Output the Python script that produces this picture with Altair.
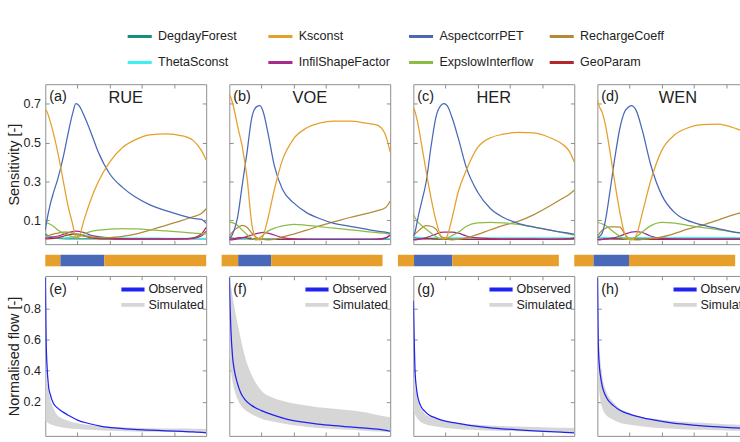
import altair as alt
import pandas as pd

CATCHMENTS = ["RUE", "VOE", "HER", "WEN"]
TOP_TAGS = ["(a)", "(b)", "(c)", "(d)"]
BOTTOM_TAGS = ["(e)", "(f)", "(g)", "(h)"]
# legend fills column by column: pairs are (row 1, row 2) of each column
PARAMS = ["DegdayForest", "ThetaSconst", "Ksconst", "InfilShapeFactor",
          "AspectcorrPET", "ExpslowInterflow", "RechargeCoeff", "GeoParam"]
PARAM_COLORS = ["#168f7b", "#3ef0f0", "#e59f2a", "#a82a8e",
                "#4a68b8", "#8cbc45", "#b38a38", "#b0282c"]
SERIES = ["Observed", "Simulated"]
SERIES_COLORS = ["#1f22f0", "#d6d6d6"]

X_SENS = [0, 1, 3, 5, 8, 11, 14, 17, 19, 21, 24, 28, 33, 40, 48, 56, 65, 75, 85, 92, 97, 100]

RUE_DEGDAY = [0.03, 0.025, 0.018, 0.012, 0.008, 0.006, 0.005, 0.005, 0.005, 0.005, 0.005, 0.005, 0.005, 0.005, 0.005, 0.005, 0.005, 0.005, 0.005, 0.005, 0.005, 0.005]
RUE_KS = [0.67, 0.66, 0.61, 0.55, 0.44, 0.31, 0.18, 0.08, 0.015, 0.02, 0.10, 0.20, 0.30, 0.40, 0.475, 0.515, 0.54, 0.545, 0.535, 0.51, 0.46, 0.41]
RUE_ASP = [0.05, 0.10, 0.18, 0.24, 0.32, 0.42, 0.54, 0.65, 0.70, 0.69, 0.64, 0.56, 0.45, 0.34, 0.27, 0.22, 0.18, 0.15, 0.125, 0.11, 0.105, 0.085]
RUE_RECH = [0.02, 0.02, 0.025, 0.03, 0.035, 0.04, 0.04, 0.035, 0.03, 0.025, 0.02, 0.015, 0.012, 0.012, 0.018, 0.03, 0.05, 0.075, 0.10, 0.12, 0.135, 0.16]
RUE_THETA = [0.02, 0.018, 0.015, 0.012, 0.01, 0.01, 0.012, 0.016, 0.02, 0.022, 0.024, 0.022, 0.018, 0.012, 0.01, 0.009, 0.009, 0.008, 0.008, 0.008, 0.008, 0.008]
RUE_INFIL = [0.01, 0.01, 0.012, 0.015, 0.02, 0.028, 0.036, 0.043, 0.045, 0.044, 0.038, 0.025, 0.015, 0.008, 0.006, 0.005, 0.005, 0.005, 0.005, 0.008, 0.02, 0.045]
RUE_EXPS = [0.09, 0.088, 0.08, 0.07, 0.05, 0.035, 0.025, 0.015, 0.01, 0.015, 0.03, 0.042, 0.05, 0.055, 0.058, 0.056, 0.052, 0.046, 0.04, 0.035, 0.032, 0.03]
RUE_GEO = [0.005, 0.005, 0.006, 0.008, 0.012, 0.018, 0.025, 0.03, 0.03, 0.028, 0.02, 0.012, 0.007, 0.005, 0.004, 0.004, 0.004, 0.004, 0.005, 0.01, 0.03, 0.065]

VOE_DEGDAY = [0.012, 0.01, 0.008, 0.006, 0.005, 0.005, 0.004, 0.004, 0.004, 0.004, 0.004, 0.004, 0.004, 0.004, 0.004, 0.004, 0.004, 0.004, 0.004, 0.004, 0.004, 0.004]
VOE_KS = [0.75, 0.73, 0.67, 0.59, 0.48, 0.32, 0.08, 0.005, 0.0, 0.02, 0.11, 0.26, 0.41, 0.52, 0.575, 0.60, 0.61, 0.61, 0.60, 0.59, 0.54, 0.45]
VOE_ASP = [0.01, 0.015, 0.05, 0.11, 0.28, 0.45, 0.63, 0.685, 0.69, 0.66, 0.55, 0.38, 0.26, 0.19, 0.14, 0.11, 0.085, 0.07, 0.055, 0.045, 0.04, 0.035]
VOE_RECH = [0.02, 0.03, 0.05, 0.062, 0.075, 0.065, 0.035, 0.012, 0.005, 0.002, 0.0, 0.002, 0.015, 0.03, 0.05, 0.072, 0.092, 0.115, 0.135, 0.15, 0.165, 0.2]
VOE_THETA = [0.006, 0.006, 0.006, 0.006, 0.006, 0.006, 0.006, 0.006, 0.006, 0.006, 0.006, 0.006, 0.006, 0.006, 0.006, 0.006, 0.006, 0.006, 0.006, 0.006, 0.006, 0.006]
VOE_INFIL = [0.0, 0.0, 0.002, 0.005, 0.01, 0.018, 0.025, 0.032, 0.036, 0.038, 0.035, 0.025, 0.012, 0.005, 0.003, 0.002, 0.002, 0.002, 0.002, 0.003, 0.008, 0.025]
VOE_EXPS = [0.09, 0.09, 0.085, 0.075, 0.05, 0.028, 0.008, 0.0, 0.012, 0.025, 0.045, 0.06, 0.072, 0.08, 0.075, 0.068, 0.06, 0.052, 0.043, 0.037, 0.033, 0.03]
VOE_GEO = [0.003, 0.004, 0.006, 0.01, 0.012, 0.01, 0.006, 0.004, 0.003, 0.003, 0.003, 0.003, 0.003, 0.003, 0.003, 0.003, 0.003, 0.003, 0.003, 0.004, 0.01, 0.025]

HER_DEGDAY = [0.015, 0.012, 0.009, 0.007, 0.005, 0.005, 0.004, 0.004, 0.004, 0.004, 0.004, 0.004, 0.004, 0.004, 0.004, 0.004, 0.004, 0.004, 0.004, 0.004, 0.004, 0.004]
HER_KS = [0.68, 0.66, 0.59, 0.495, 0.35, 0.215, 0.10, 0.02, 0.004, 0.02, 0.11, 0.25, 0.36, 0.475, 0.525, 0.543, 0.553, 0.55, 0.525, 0.495, 0.455, 0.40]
HER_ASP = [0.02, 0.04, 0.12, 0.19, 0.30, 0.48, 0.63, 0.69, 0.70, 0.69, 0.63, 0.52, 0.37, 0.245, 0.16, 0.115, 0.085, 0.065, 0.05, 0.04, 0.034, 0.03]
HER_RECH = [0.02, 0.03, 0.045, 0.06, 0.073, 0.07, 0.055, 0.02, 0.01, 0.004, 0.0, 0.003, 0.01, 0.028, 0.052, 0.075, 0.095, 0.13, 0.175, 0.21, 0.235, 0.255]
HER_THETA = [0.02, 0.016, 0.012, 0.01, 0.01, 0.01, 0.01, 0.01, 0.01, 0.01, 0.01, 0.01, 0.01, 0.01, 0.01, 0.01, 0.01, 0.01, 0.01, 0.01, 0.01, 0.01]
HER_INFIL = [0.0, 0.0, 0.003, 0.006, 0.012, 0.02, 0.03, 0.038, 0.04, 0.04, 0.04, 0.035, 0.02, 0.01, 0.007, 0.005, 0.005, 0.005, 0.004, 0.004, 0.006, 0.01]
HER_EXPS = [0.13, 0.115, 0.09, 0.075, 0.055, 0.035, 0.017, 0.005, 0.006, 0.01, 0.022, 0.04, 0.07, 0.088, 0.09, 0.087, 0.08, 0.066, 0.05, 0.038, 0.03, 0.025]
HER_GEO = [0.003, 0.003, 0.004, 0.005, 0.006, 0.006, 0.005, 0.004, 0.004, 0.004, 0.003, 0.003, 0.003, 0.003, 0.003, 0.003, 0.003, 0.003, 0.003, 0.004, 0.005, 0.008]

WEN_DEGDAY = [0.015, 0.012, 0.01, 0.008, 0.006, 0.005, 0.005, 0.005, 0.005, 0.005, 0.005, 0.005, 0.005, 0.005, 0.005, 0.005, 0.005, 0.005, 0.005, 0.005, 0.005, 0.005]
WEN_KS = [0.72, 0.69, 0.655, 0.59, 0.445, 0.285, 0.14, 0.03, 0.005, 0.0, 0.02, 0.14, 0.30, 0.46, 0.54, 0.575, 0.592, 0.595, 0.575, 0.55, 0.51, 0.46]
WEN_ASP = [0.01, 0.015, 0.035, 0.10, 0.26, 0.43, 0.575, 0.66, 0.68, 0.69, 0.667, 0.56, 0.39, 0.23, 0.14, 0.10, 0.077, 0.058, 0.04, 0.032, 0.028, 0.025]
WEN_RECH = [0.02, 0.03, 0.05, 0.06, 0.067, 0.067, 0.066, 0.03, 0.01, 0.002, 0.0, 0.002, 0.006, 0.015, 0.033, 0.055, 0.075, 0.102, 0.13, 0.145, 0.155, 0.16]
WEN_THETA = [0.012, 0.012, 0.012, 0.012, 0.012, 0.012, 0.012, 0.012, 0.012, 0.012, 0.012, 0.012, 0.012, 0.012, 0.012, 0.012, 0.012, 0.012, 0.012, 0.012, 0.012, 0.012]
WEN_INFIL = [0.0, 0.0, 0.002, 0.005, 0.008, 0.012, 0.02, 0.03, 0.035, 0.04, 0.043, 0.038, 0.02, 0.008, 0.005, 0.004, 0.004, 0.004, 0.004, 0.004, 0.004, 0.004]
WEN_EXPS = [0.09, 0.088, 0.082, 0.075, 0.055, 0.035, 0.018, 0.005, 0.004, 0.006, 0.015, 0.042, 0.072, 0.09, 0.086, 0.075, 0.064, 0.053, 0.04, 0.034, 0.03, 0.028]
WEN_GEO = [0.003, 0.003, 0.003, 0.004, 0.005, 0.005, 0.005, 0.004, 0.004, 0.004, 0.003, 0.003, 0.003, 0.003, 0.003, 0.003, 0.003, 0.003, 0.003, 0.003, 0.003, 0.003]

# dominant-parameter strips: segment edges and parameter of each segment
RUE_SEG_EDGES = [0, 9.4, 36.7, 100]
VOE_SEG_EDGES = [0, 10.3, 30.8, 100]
HER_SEG_EDGES = [0, 10.0, 33.8, 100]
WEN_SEG_EDGES = [0, 12.0, 34.0, 100]
SEG_PARAMS = ["Ksconst", "AspectcorrPET", "Ksconst"]

X_FLOW = [0, 0.5, 1, 2, 3, 5, 7, 10, 14, 20, 27, 35, 45, 55, 65, 75, 85, 92, 100]
RUE_OBS = [1.0, 0.6, 0.45, 0.30, 0.25, 0.19, 0.165, 0.14, 0.115, 0.082, 0.06, 0.042, 0.03, 0.022, 0.018, 0.013, 0.009, 0.006, 0.0]
RUE_SIM_HI = [0.48, 0.38, 0.33, 0.27, 0.22, 0.16, 0.12, 0.095, 0.078, 0.062, 0.05, 0.042, 0.035, 0.032, 0.03, 0.028, 0.027, 0.026, 0.025]
RUE_SIM_LO = [0.08, 0.075, 0.07, 0.062, 0.056, 0.048, 0.042, 0.035, 0.03, 0.024, 0.019, 0.015, 0.012, 0.009, 0.007, 0.005, 0.004, 0.003, 0.002]
VOE_OBS = [1.0, 0.8, 0.66, 0.49, 0.41, 0.32, 0.26, 0.21, 0.175, 0.143, 0.115, 0.09, 0.07, 0.056, 0.046, 0.038, 0.03, 0.023, 0.01]
VOE_SIM_HI = [1.0, 0.98, 0.95, 0.88, 0.82, 0.71, 0.61, 0.48, 0.37, 0.27, 0.225, 0.2, 0.18, 0.165, 0.155, 0.145, 0.13, 0.115, 0.10]
VOE_SIM_LO = [0.5, 0.44, 0.4, 0.33, 0.28, 0.22, 0.18, 0.145, 0.12, 0.09, 0.072, 0.056, 0.042, 0.031, 0.024, 0.019, 0.012, 0.008, 0.004]
HER_OBS = [0.85, 0.6, 0.41, 0.28, 0.22, 0.165, 0.14, 0.113, 0.095, 0.075, 0.062, 0.048, 0.035, 0.026, 0.019, 0.013, 0.008, 0.005, 0.0]
HER_SIM_HI = [0.38, 0.34, 0.31, 0.25, 0.2, 0.155, 0.125, 0.105, 0.09, 0.075, 0.063, 0.055, 0.048, 0.043, 0.04, 0.037, 0.034, 0.032, 0.031]
HER_SIM_LO = [0.15, 0.13, 0.12, 0.1, 0.085, 0.066, 0.057, 0.047, 0.04, 0.031, 0.024, 0.019, 0.015, 0.012, 0.01, 0.008, 0.006, 0.005, 0.004]
WEN_OBS = [1.0, 0.6, 0.46, 0.36, 0.30, 0.24, 0.205, 0.175, 0.145, 0.12, 0.1, 0.083, 0.066, 0.054, 0.045, 0.038, 0.032, 0.027, 0.02]
WEN_SIM_HI = [0.8, 0.7, 0.6, 0.45, 0.37, 0.28, 0.235, 0.195, 0.155, 0.128, 0.1, 0.09, 0.078, 0.07, 0.064, 0.058, 0.053, 0.05, 0.047]
WEN_SIM_LO = [0.4, 0.33, 0.28, 0.2, 0.16, 0.12, 0.1, 0.083, 0.065, 0.052, 0.042, 0.033, 0.027, 0.022, 0.019, 0.016, 0.014, 0.013, 0.012]

X_TICKS = [20, 40, 60, 80]
SENS_TICKS = [0.1, 0.3, 0.5, 0.7]
FLOW_TICKS = [0.2, 0.4, 0.6, 0.8]

SENS = {
    "RUE": {"DegdayForest": RUE_DEGDAY, "Ksconst": RUE_KS, "AspectcorrPET": RUE_ASP, "RechargeCoeff": RUE_RECH,
            "ThetaSconst": RUE_THETA, "InfilShapeFactor": RUE_INFIL, "ExpslowInterflow": RUE_EXPS, "GeoParam": RUE_GEO},
    "VOE": {"DegdayForest": VOE_DEGDAY, "Ksconst": VOE_KS, "AspectcorrPET": VOE_ASP, "RechargeCoeff": VOE_RECH,
            "ThetaSconst": VOE_THETA, "InfilShapeFactor": VOE_INFIL, "ExpslowInterflow": VOE_EXPS, "GeoParam": VOE_GEO},
    "HER": {"DegdayForest": HER_DEGDAY, "Ksconst": HER_KS, "AspectcorrPET": HER_ASP, "RechargeCoeff": HER_RECH,
            "ThetaSconst": HER_THETA, "InfilShapeFactor": HER_INFIL, "ExpslowInterflow": HER_EXPS, "GeoParam": HER_GEO},
    "WEN": {"DegdayForest": WEN_DEGDAY, "Ksconst": WEN_KS, "AspectcorrPET": WEN_ASP, "RechargeCoeff": WEN_RECH,
            "ThetaSconst": WEN_THETA, "InfilShapeFactor": WEN_INFIL, "ExpslowInterflow": WEN_EXPS, "GeoParam": WEN_GEO},
}
DRAW_ORDER = ["DegdayForest", "ThetaSconst", "GeoParam", "InfilShapeFactor",
              "RechargeCoeff", "ExpslowInterflow", "AspectcorrPET", "Ksconst"]
SEGS = {"RUE": RUE_SEG_EDGES, "VOE": VOE_SEG_EDGES, "HER": HER_SEG_EDGES, "WEN": WEN_SEG_EDGES}
FLOWS = {
    "RUE": (RUE_OBS, RUE_SIM_LO, RUE_SIM_HI),
    "VOE": (VOE_OBS, VOE_SIM_LO, VOE_SIM_HI),
    "HER": (HER_OBS, HER_SIM_LO, HER_SIM_HI),
    "WEN": (WEN_OBS, WEN_SIM_LO, WEN_SIM_HI),
}

W = 167
H_TOP = 166
H_BOT = 166
FRAME = "#8a8a8a"
TXT = "#222222"
FONT = "Liberation Sans"

xscale = alt.Scale(domain=[0, 100], nice=False, zero=False)
sens_scale = alt.Scale(domain=[-0.022, 0.8], nice=False, zero=False)
flow_scale = alt.Scale(domain=[-0.02, 1.01], nice=False, zero=False)
color_scale = alt.Scale(domain=PARAMS, range=PARAM_COLORS)

TOP_LEGEND = alt.Legend(
    orient="none", legendX=84, legendY=-57, columns=4, title=None,
    symbolType="stroke", symbolSize=625, symbolStrokeWidth=3,
    labelFontSize=13, labelFont=FONT, labelColor=TXT, labelOffset=5,
    gridAlign="all", columnPadding=15, rowPadding=12, clipHeight=15,
)


def inner_axis(orient, values, show_labels=False, title=None, fmt=None):
    kw = dict(orient=orient, values=values, labels=show_labels, domain=False,
              grid=False, ticks=True, tickSize=4, offset=-4, tickColor=FRAME,
              tickWidth=1, labelPadding=5, labelFontSize=13, labelColor=TXT,
              labelFont=FONT, titleFontSize=15, titleFont=FONT,
              titleFontWeight="normal", titleColor=TXT, titlePadding=2)
    if fmt:
        kw["format"] = fmt
    kw["title"] = title if title else None
    return alt.Axis(**kw)


def sens_panel(i, name):
    rows = []
    for k, p in enumerate(DRAW_ORDER):
        for x, v in zip(X_SENS, SENS[name][p]):
            rows.append({"x": x, "value": v, "param": p, "k": k})
    df = pd.DataFrame(rows)
    lines = alt.Chart(df).mark_line(strokeWidth=1.3, interpolate="monotone", clip=True).encode(
        x=alt.X("x:Q", scale=xscale, axis=inner_axis("bottom", X_TICKS)),
        y=alt.Y("value:Q", scale=sens_scale,
                axis=inner_axis("left", SENS_TICKS, show_labels=(i == 0),
                                title="Sensitivity [-]" if i == 0 else None, fmt=".1f")),
        color=alt.Color("param:N", scale=color_scale, legend=TOP_LEGEND),
    )
    frame_axes = alt.Chart(df).mark_point(opacity=0).encode(
        x=alt.X("x:Q", scale=xscale, axis=inner_axis("top", X_TICKS)),
        y=alt.Y("value:Q", scale=sens_scale, axis=inner_axis("right", SENS_TICKS)),
    )
    tag = alt.Chart(pd.DataFrame({"t": [TOP_TAGS[i]]})).mark_text(
        align="left", baseline="middle", fontSize=15, font=FONT, color=TXT
    ).encode(text="t:N", x=alt.value(4), y=alt.value(12))
    title = alt.Chart(pd.DataFrame({"t": [name]})).mark_text(
        align="center", baseline="middle", fontSize=17, font=FONT, color=TXT
    ).encode(text="t:N", x=alt.value(W / 2), y=alt.value(14))
    return alt.layer(lines, frame_axes, tag, title).resolve_axis(
        x="independent", y="independent").properties(width=W, height=H_TOP)


def strip_panel(name):
    e = SEGS[name]
    df = pd.DataFrame({"x0": e[:-1], "x1": e[1:], "param": SEG_PARAMS})
    return alt.Chart(df).mark_bar(height=12).encode(
        x=alt.X("x0:Q", scale=xscale, axis=None),
        x2="x1:Q",
        color=alt.Color("param:N", scale=color_scale, legend=TOP_LEGEND),
    ).properties(width=W, height=12, view=alt.ViewBackground(strokeOpacity=0))


def flow_panel(i, name):
    obs, lo, hi = FLOWS[name]
    sim = pd.DataFrame({"x": X_FLOW, "lo": lo, "hi": hi})
    odf = pd.DataFrame({"x": X_FLOW, "y": obs, "series": ["Observed"] * len(X_FLOW)})
    band = alt.Chart(sim).mark_area(color=SERIES_COLORS[1], opacity=1, interpolate="monotone", clip=True).encode(
        x=alt.X("x:Q", scale=xscale, axis=inner_axis("bottom", X_TICKS)),
        y=alt.Y("lo:Q", scale=flow_scale,
                axis=inner_axis("left", FLOW_TICKS, show_labels=(i == 0),
                                title="Normalised flow [-]" if i == 0 else None, fmt=".1f")),
        y2="hi:Q",
    )
    line = alt.Chart(odf).mark_line(strokeWidth=1.3, interpolate="monotone", clip=True).encode(
        x=alt.X("x:Q", scale=xscale, axis=None),
        y=alt.Y("y:Q", scale=flow_scale, axis=None),
        stroke=alt.Stroke("series:N", scale=alt.Scale(domain=SERIES, range=SERIES_COLORS),
                          legend=alt.Legend(orient="none", legendX=77, legendY=6, title=None,
                                            symbolType="stroke", symbolSize=576,
                                            symbolStrokeWidth=4, labelFontSize=13,
                                            labelFont=FONT, labelColor=TXT, labelOffset=2,
                                            rowPadding=0, clipHeight=16, padding=0)),
    )
    frame_axes = alt.Chart(sim).mark_point(opacity=0).encode(
        x=alt.X("x:Q", scale=xscale, axis=inner_axis("top", X_TICKS)),
        y=alt.Y("lo:Q", scale=flow_scale, axis=inner_axis("right", FLOW_TICKS)),
    )
    tag = alt.Chart(pd.DataFrame({"t": [BOTTOM_TAGS[i]]})).mark_text(
        align="left", baseline="middle", fontSize=15, font=FONT, color=TXT
    ).encode(text="t:N", x=alt.value(4), y=alt.value(14))
    return alt.layer(band, line, frame_axes, tag).resolve_axis(
        x="independent", y="independent").properties(width=W, height=H_BOT)


top_row = alt.hconcat(*[sens_panel(i, n) for i, n in enumerate(CATCHMENTS)], spacing=16)
strip_row = alt.hconcat(*[strip_panel(n) for n in CATCHMENTS], spacing=16)
bottom_row = alt.hconcat(*[flow_panel(i, n) for i, n in enumerate(CATCHMENTS)], spacing=16).resolve_scale(
    stroke="independent").resolve_legend(stroke="independent")

upper = alt.vconcat(top_row, strip_row, spacing=10)
chart = alt.vconcat(upper, bottom_row, spacing=9).resolve_scale(
    stroke="independent", color="shared").resolve_legend(stroke="independent").properties(
    padding={"left": 6, "top": 22, "right": -23, "bottom": -1}
).configure(font=FONT).configure_view(stroke=FRAME, strokeWidth=1)

chart.save("out.html", embed_options={"renderer": "svg", "actions": False})
